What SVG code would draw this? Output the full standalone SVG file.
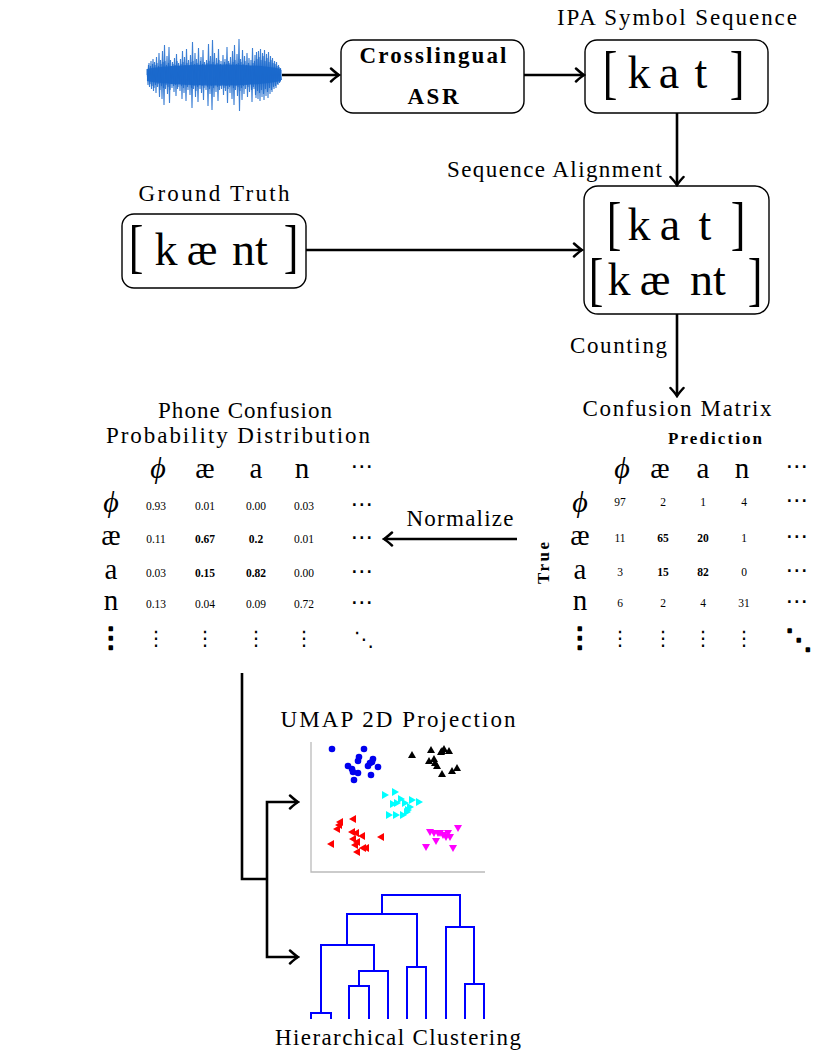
<svg xmlns="http://www.w3.org/2000/svg" xmlns:xlink="http://www.w3.org/1999/xlink" width="830" height="1060" viewBox="0 0 830 1060">
<style>
text{font-family:"Liberation Serif","DejaVu Serif",serif;fill:#000}
.t{font-size:23px}
.bf{font-size:23px;font-weight:bold}
.pb{font-size:17px;font-weight:bold}
.big{font-size:46px}
.br{font-size:44px;text-anchor:middle}
.sym{font-size:29px;text-anchor:middle}
.phi{font-size:30px;font-style:italic;text-anchor:middle}
.n{font-size:11.5px;text-anchor:middle}
.nb{font-size:11.5px;text-anchor:middle;font-weight:bold}
.d{font-family:"DejaVu Sans","DejaVu Serif",sans-serif;text-anchor:middle;font-size:23px}
.vd{font-family:"DejaVu Sans","DejaVu Serif",sans-serif;text-anchor:middle;font-size:20px}
.vdb{font-family:"DejaVu Sans","DejaVu Serif",sans-serif;text-anchor:middle;font-size:28px;stroke:#000;stroke-width:1.6;stroke-linejoin:round}
.box{fill:#fff;stroke:#000;stroke-width:1.4}
.con{fill:none;stroke:#000;stroke-width:2.6}
.den{fill:none;stroke:#0000ff;stroke-width:2}
</style>
<defs>
<marker id="ah" viewBox="-11 -8 13 16" refX="0" refY="0" markerWidth="13" markerHeight="16" markerUnits="userSpaceOnUse" orient="auto">
<path d="M-8,-6.5 Q-2.5,-1.5 0,0 Q-2.5,1.5 -8,6.5" fill="none" stroke="#000" stroke-width="2.5" stroke-linecap="round"/>
</marker>
<path id="tu" d="M0,-4 L4,3 L-4,3Z"/>
<path id="tr" d="M4,0 L-3,-4 L-3,4Z"/>
<path id="tl" d="M-4,0 L3,-4 L3,4Z"/>
<path id="td" d="M0,4 L4,-3 L-4,-3Z"/>
<circle id="ci" r="3.3"/>
<path id="wave" fill="none" stroke="#1a68cc" stroke-width="1.1" stroke-opacity="0.85" d="M147,75 L147,69 L148,85 L149,63 L150,84 L151,61 L152,86 L153,59 L154,88 L155,65 L156,93 L157,63 L158,84 L159,53 L160,90 L161,64 L162,99 L163,62 L164,105 L165,61 L166,85 L167,56 L168,87 L169,47 L170,90 L171,66 L172,88 L173,64 L174,92 L175,65 L176,96 L177,61 L178,87 L179,66 L180,91 L181,64 L182,99 L183,62 L184,93 L185,65 L186,101 L187,63 L188,90 L189,66 L190,95 L191,62 L192,108 L193,61 L194,86 L195,53 L196,91 L197,63 L198,102 L199,65 L200,89 L201,57 L202,86 L203,50 L204,88 L205,66 L206,90 L207,63 L208,106 L209,61 L210,94 L211,64 L212,110 L213,62 L214,97 L215,65 L216,92 L217,63 L218,101 L219,60 L220,86 L221,61 L222,84 L223,55 L224,88 L225,59 L226,86 L227,47 L228,89 L229,63 L230,93 L231,65 L232,99 L233,62 L234,105 L235,60 L236,86 L237,54 L238,87 L239,39 L240,91 L241,62 L242,100 L243,64 L244,94 L245,61 L246,85 L247,53 L248,87 L249,58 L250,84 L251,60 L252,102 L253,63 L254,89 L255,55 L256,98 L257,59 L258,99 L259,57 L260,101 L261,60 L262,97 L263,56 L264,100 L265,61 L266,96 L267,58 L268,98 L269,62 L270,94 L271,60 L272,92 L273,63 L274,89 L275,64 L276,88 L277,66 L278,85 L279,67 L280,82 L281,70"/>
</defs>

<g id="waveform">
<use xlink:href="#wave"/>
<use xlink:href="#wave" transform="translate(0.5,150) scale(1,-1)"/>
<path fill="#1a68cc" d="M147,69 C170,64 250,62 281,69 L281,81 C250,88 170,86 147,81Z" fill-opacity="0.9"/>
</g>

<g id="asr">
<rect class="box" x="341" y="40" width="183" height="73" rx="12"/>
<text class="bf" x="433" y="63" text-anchor="middle" textLength="147">Crosslingual</text>
<text class="bf" x="433" y="104" text-anchor="middle" textLength="51">ASR</text>
</g>

<g id="ipa-sequence">
<text class="t" x="677" y="25" text-anchor="middle" textLength="240">IPA Symbol Sequence</text>
<rect class="box" x="585" y="40" width="183" height="73" rx="12"/>
<text class="br" transform="translate(610,92) scale(1,1.35)">[</text>
<text class="big" x="639" y="88" text-anchor="middle">k</text>
<text class="big" x="669" y="88" text-anchor="middle">a</text>
<text class="big" x="701" y="88" text-anchor="middle">t</text>
<text class="br" transform="translate(737,92) scale(1,1.35)">]</text>
</g>

<g id="ground-truth">
<text class="t" x="214" y="201" text-anchor="middle" textLength="151">Ground Truth</text>
<rect class="box" x="122" y="214" width="184" height="74" rx="12"/>
<text class="br" transform="translate(136,266) scale(1,1.35)">[</text>
<text class="big" x="166" y="265" text-anchor="middle">k</text>
<text class="big" x="202" y="265" text-anchor="middle">æ</text>
<text class="big" x="250" y="265" text-anchor="middle">nt</text>
<text class="br" transform="translate(291,266) scale(1,1.35)">]</text>
</g>

<g id="alignment">
<text class="t" x="662" y="177" text-anchor="end" textLength="215">Sequence Alignment</text>
<rect class="box" x="584" y="186" width="185" height="128" rx="14"/>
<text class="br" transform="translate(614,243) scale(1,1.35)">[</text>
<text class="big" x="639" y="240" text-anchor="middle">k</text>
<text class="big" x="670" y="240" text-anchor="middle">a</text>
<text class="big" x="705" y="240" text-anchor="middle">t</text>
<text class="br" transform="translate(738,243) scale(1,1.35)">]</text>
<text class="br" transform="translate(596,299) scale(1,1.35)">[</text>
<text class="big" x="619" y="295" text-anchor="middle">k</text>
<text class="big" x="655" y="295" text-anchor="middle">æ</text>
<text class="big" x="708" y="295" text-anchor="middle">nt</text>
<text class="br" transform="translate(755,299) scale(1,1.35)">]</text>
</g>

<g id="confusion-matrix">
<text class="t" x="677" y="416" text-anchor="middle" textLength="189">Confusion Matrix</text>
<text class="pb" x="715" y="444" text-anchor="middle" textLength="94">Prediction</text>
<text class="pb" x="0" y="0" text-anchor="middle" font-size="19" textLength="42" transform="translate(549,563) rotate(-90)">True</text>
<text class="phi" x="622" y="478">ϕ</text>
<text class="sym" x="660" y="478">æ</text>
<text class="sym" x="703" y="478">a</text>
<text class="sym" x="742" y="478">n</text>
<text class="d" x="797" y="474">⋯</text>
<text class="phi" x="580" y="512">ϕ</text>
<text class="n" x="620" y="506">97</text><text class="n" x="663" y="506">2</text><text class="n" x="703" y="506">1</text><text class="n" x="744" y="506">4</text><text class="d" x="797" y="508">⋯</text>
<text class="sym" x="580" y="545">æ</text>
<text class="n" x="620" y="542">11</text><text class="nb" x="663" y="542">65</text><text class="nb" x="703" y="542">20</text><text class="n" x="744" y="542">1</text><text class="d" x="797" y="544">⋯</text>
<text class="sym" x="580" y="579">a</text>
<text class="n" x="620" y="576">3</text><text class="nb" x="663" y="576">15</text><text class="nb" x="703" y="576">82</text><text class="n" x="744" y="576">0</text><text class="d" x="797" y="578">⋯</text>
<text class="sym" x="580" y="610">n</text>
<text class="n" x="620" y="607">6</text><text class="n" x="663" y="607">2</text><text class="n" x="703" y="607">4</text><text class="n" x="744" y="607">31</text><text class="d" x="797" y="609">⋯</text>
<text class="vdb" x="580" y="647">⋮</text>
<text class="vd" x="620" y="645">⋮</text><text class="vd" x="663" y="645">⋮</text><text class="vd" x="703" y="645">⋮</text><text class="vd" x="744" y="645">⋮</text>
<text class="vdb" x="799" y="649" font-size="36">⋱</text>
</g>

<g id="probability-distribution">
<text class="t" x="245" y="418" text-anchor="middle" textLength="174">Phone Confusion</text>
<text class="t" x="238" y="443" text-anchor="middle" textLength="264">Probability Distribution</text>
<text class="phi" x="158" y="478">ϕ</text>
<text class="sym" x="205" y="478">æ</text>
<text class="sym" x="256" y="478">a</text>
<text class="sym" x="302" y="478">n</text>
<text class="d" x="362" y="474">⋯</text>
<text class="phi" x="111" y="512">ϕ</text>
<text class="n" x="156" y="510">0.93</text><text class="n" x="205" y="510">0.01</text><text class="n" x="256" y="510">0.00</text><text class="n" x="304" y="510">0.03</text><text class="d" x="362" y="512">⋯</text>
<text class="sym" x="111" y="545">æ</text>
<text class="n" x="156" y="543">0.11</text><text class="nb" x="205" y="543">0.67</text><text class="nb" x="256" y="543">0.2</text><text class="n" x="304" y="543">0.01</text><text class="d" x="362" y="545">⋯</text>
<text class="sym" x="111" y="579">a</text>
<text class="n" x="156" y="577">0.03</text><text class="nb" x="205" y="577">0.15</text><text class="nb" x="256" y="577">0.82</text><text class="n" x="304" y="577">0.00</text><text class="d" x="362" y="579">⋯</text>
<text class="sym" x="111" y="610">n</text>
<text class="n" x="156" y="608">0.13</text><text class="n" x="205" y="608">0.04</text><text class="n" x="256" y="608">0.09</text><text class="n" x="304" y="608">0.72</text><text class="d" x="362" y="610">⋯</text>
<text class="vdb" x="111" y="647">⋮</text>
<text class="vd" x="156" y="645">⋮</text><text class="vd" x="205" y="645">⋮</text><text class="vd" x="256" y="645">⋮</text><text class="vd" x="304" y="645">⋮</text>
<text class="vd" x="364" y="646" font-size="26">⋱</text>
</g>

<g id="umap">
<text class="t" x="398" y="727" text-anchor="middle" textLength="235">UMAP 2D Projection</text>
<path d="M311,742 V872 H485" fill="none" stroke="#bbbbbb" stroke-width="1.3"/>
<g fill="#0000ee">
<use xlink:href="#ci" x="332" y="749"/><use xlink:href="#ci" x="364" y="749"/><use xlink:href="#ci" x="359" y="757"/><use xlink:href="#ci" x="358" y="761"/><use xlink:href="#ci" x="373" y="759"/><use xlink:href="#ci" x="372" y="762"/><use xlink:href="#ci" x="368" y="766"/><use xlink:href="#ci" x="378" y="767"/><use xlink:href="#ci" x="348" y="766"/><use xlink:href="#ci" x="352" y="769"/><use xlink:href="#ci" x="353" y="772"/><use xlink:href="#ci" x="358" y="773"/><use xlink:href="#ci" x="354" y="780"/><use xlink:href="#ci" x="371" y="775"/><use xlink:href="#ci" x="370" y="763"/>
</g>
<g fill="#000">
<use xlink:href="#tu" x="412" y="755"/><use xlink:href="#tu" x="431" y="750"/><use xlink:href="#tu" x="442" y="751"/><use xlink:href="#tu" x="444" y="749"/><use xlink:href="#tu" x="449" y="751"/><use xlink:href="#tu" x="429" y="761"/><use xlink:href="#tu" x="434" y="759"/><use xlink:href="#tu" x="437" y="766"/><use xlink:href="#tu" x="435" y="763"/><use xlink:href="#tu" x="442" y="774"/><use xlink:href="#tu" x="452" y="771"/><use xlink:href="#tu" x="457" y="768"/><use xlink:href="#tu" x="441" y="752"/>
</g>
<g fill="#00ffff">
<use xlink:href="#tr" x="385" y="795"/><use xlink:href="#tr" x="395" y="792"/><use xlink:href="#tr" x="401" y="799"/><use xlink:href="#tr" x="405" y="803"/><use xlink:href="#tr" x="412" y="800"/><use xlink:href="#tr" x="419" y="802"/><use xlink:href="#tr" x="397" y="803"/><use xlink:href="#tr" x="393" y="804"/><use xlink:href="#tr" x="410" y="807"/><use xlink:href="#tr" x="407" y="812"/><use xlink:href="#tr" x="403" y="815"/><use xlink:href="#tr" x="396" y="815"/><use xlink:href="#tr" x="389" y="815"/><use xlink:href="#tr" x="408" y="810"/>
</g>
<g fill="#ff0000">
<use xlink:href="#tl" x="353" y="819"/><use xlink:href="#tl" x="340" y="822"/><use xlink:href="#tl" x="339" y="825"/><use xlink:href="#tl" x="337" y="829"/><use xlink:href="#tl" x="352" y="832"/><use xlink:href="#tl" x="356" y="833"/><use xlink:href="#tl" x="362" y="836"/><use xlink:href="#tl" x="353" y="839"/><use xlink:href="#tl" x="381" y="837"/><use xlink:href="#tl" x="331" y="844"/><use xlink:href="#tl" x="357" y="842"/><use xlink:href="#tl" x="355" y="845"/><use xlink:href="#tl" x="363" y="848"/><use xlink:href="#tl" x="366" y="848"/><use xlink:href="#tl" x="357" y="852"/>
</g>
<g fill="#ff00ff">
<use xlink:href="#td" x="430" y="832"/><use xlink:href="#td" x="434" y="833"/><use xlink:href="#td" x="438" y="833"/><use xlink:href="#td" x="443" y="835"/><use xlink:href="#td" x="448" y="833"/><use xlink:href="#td" x="450" y="837"/><use xlink:href="#td" x="446" y="837"/><use xlink:href="#td" x="458" y="828"/><use xlink:href="#td" x="436" y="841"/><use xlink:href="#td" x="426" y="847"/><use xlink:href="#td" x="453" y="848"/><use xlink:href="#td" x="440" y="833"/>
</g>
</g>

<g id="dendrogram">
<path class="den" d="M382,914 V895 H460 V927 M347,945 V914 H417 V967 M446,1019 V927 H474 V984 M465,1019 V984 H484 V1019 M407,1019 V967 H426 V1019 M321,1013 V945 H374 V971 M311,1019 V1013 H331 V1019 M359,986 V971 H388 V1019 M349,1019 V986 H369 V1019"/>
<text class="t" x="398" y="1045" text-anchor="middle" textLength="246">Hierarchical Clustering</text>
</g>

<g id="connectors">
<line class="con" x1="282" y1="75" x2="339" y2="75" marker-end="url(#ah)"/>
<line class="con" x1="524" y1="75" x2="584" y2="75" marker-end="url(#ah)"/>
<line class="con" x1="677" y1="113" x2="677" y2="185" marker-end="url(#ah)"/>
<line class="con" x1="306" y1="250" x2="582" y2="250" marker-end="url(#ah)"/>
<line class="con" x1="677" y1="314" x2="677" y2="396" marker-end="url(#ah)"/>
<line class="con" x1="517" y1="539" x2="384" y2="539" marker-end="url(#ah)"/>
<text class="t" x="460" y="526" text-anchor="middle" textLength="107">Normalize</text>
<text class="t" x="667" y="353" text-anchor="end" textLength="97">Counting</text>
<path class="con" d="M242,673 V879 H267"/>
<path class="con" d="M267,879 V802 H298" marker-end="url(#ah)"/>
<path class="con" d="M267,879 V957 H298" marker-end="url(#ah)"/>
</g>
</svg>
